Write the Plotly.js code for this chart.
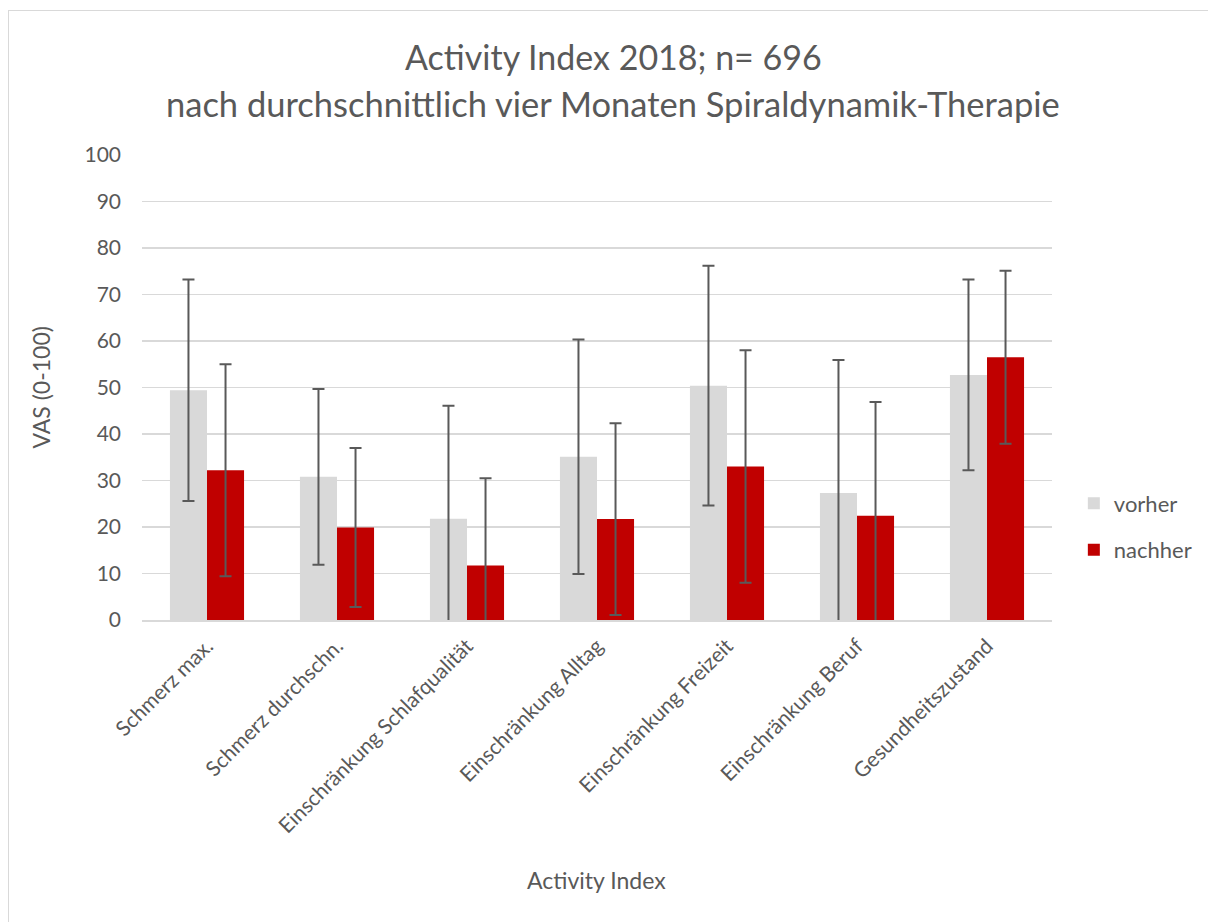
<!DOCTYPE html>
<html>
<head>
<meta charset="utf-8">
<script src="https://cdn.plot.ly/plotly-3.0.1.min.js"></script>
<style>
html,body{margin:0;padding:0;background:#fff;overflow:hidden;}
#wrap{position:absolute;left:0;top:0;width:1208px;height:922px;}
#frame{position:absolute;left:8px;top:10px;width:1230px;height:950px;border:1.5px solid #d9d9d9;box-sizing:border-box;pointer-events:none;}
#chart{position:absolute;left:0;top:0;width:1208px;height:922px;}
</style>
</head>
<body>
<div id="wrap"><div id="chart"></div><div id="frame"></div></div>
<script>
const categories = ["Schmerz max.", "Schmerz durchschn.", "Einschränkung Schlafqualität", "Einschränkung Alltag", "Einschränkung Freizeit", "Einschränkung Beruf", "Gesundheitszustand"];
const vorher = [49.4, 30.8, 21.8, 35.1, 50.4, 27.3, 52.7];
const vorherSD = [23.8, 18.9, 24.3, 25.2, 25.8, 28.6, 20.5];
const nachher = [32.2, 19.9, 11.7, 21.7, 33.0, 22.4, 56.5];
const nachherSD = [22.8, 17.1, 18.8, 20.6, 25.0, 24.5, 18.6];
const yTicks = [0, 10, 20, 30, 40, 50, 60, 70, 80, 90, 100];
const titleLines = ["Activity Index 2018; n= 696", "nach durchschnittlich vier Monaten Spiraldynamik-Therapie"];
const xTitle = "Activity Index";
const yTitle = "VAS (0-100)";

const font = "Lato, 'Open Sans', sans-serif";
const grey = "#595959";

const errStyle = (arr) => ({type: "data", array: arr, symmetric: true, visible: true, color: "#595959", thickness: 2, width: 6});

const traces = [
  {type: "bar", name: "vorher", x: categories, y: vorher, error_y: errStyle(vorherSD),
   marker: {color: "#d9d9d9"}, legendgroup: "a"},
  {type: "bar", name: "nachher", x: categories, y: nachher, error_y: errStyle(nachherSD),
   marker: {color: "#c00000"}, legendgroup: "b"}
];

const layout = {
  width: 1208, height: 922,
  paper_bgcolor: "rgba(0,0,0,0)", plot_bgcolor: "rgba(0,0,0,0)",
  font: {family: font, color: grey, size: 21},
  margin: {l: 142, r: 156, t: 155, b: 302, autoexpand: false},
  barmode: "group", bargap: 0.43, bargroupgap: 0,
  showlegend: true,
  legend: {x: 1.024, xanchor: "left", y: 0.296, yanchor: "top", font: {size: 22, color: grey},
           tracegroupgap: 15, traceorder: "grouped", itemwidth: 30},
  xaxis: {type: "category", tickangle: -45, tickfont: {size: 21, color: grey},
          showgrid: false, showline: true, linecolor: "#d9d9d9", linewidth: 1.5, ticks: "", ticklabelstandoff: 4},
  yaxis: {range: [0, 100], tickvals: yTicks, ticktext: yTicks.map(String), tickfont: {size: 21, color: grey},
          showgrid: true, gridcolor: "#d9d9d9", gridwidth: 1.5, zeroline: false, showline: false,
          ticks: "", ticklabelstandoff: 20},
  annotations: [
    {text: titleLines[0], xref: "paper", yref: "paper", x: 0.5176, y: 1.2108, xanchor: "center", yanchor: "middle", showarrow: false, font: {size: 34, color: grey}},
    {text: titleLines[1], xref: "paper", yref: "paper", x: 0.5176, y: 1.1118, xanchor: "center", yanchor: "middle", showarrow: false, font: {size: 34.5, color: grey}},
    {text: xTitle, xref: "paper", yref: "paper", x: 0.499, y: -0.559, xanchor: "center", yanchor: "middle", showarrow: false, font: {size: 23, color: grey}},
    {text: yTitle, xref: "paper", yref: "paper", x: -0.112, y: 0.50, xanchor: "center", yanchor: "middle", textangle: -90, showarrow: false, font: {size: 23, color: grey}}
  ]
};

Plotly.newPlot("chart", traces, layout, {displayModeBar: false, staticPlot: true});
</script>
</body>
</html>
